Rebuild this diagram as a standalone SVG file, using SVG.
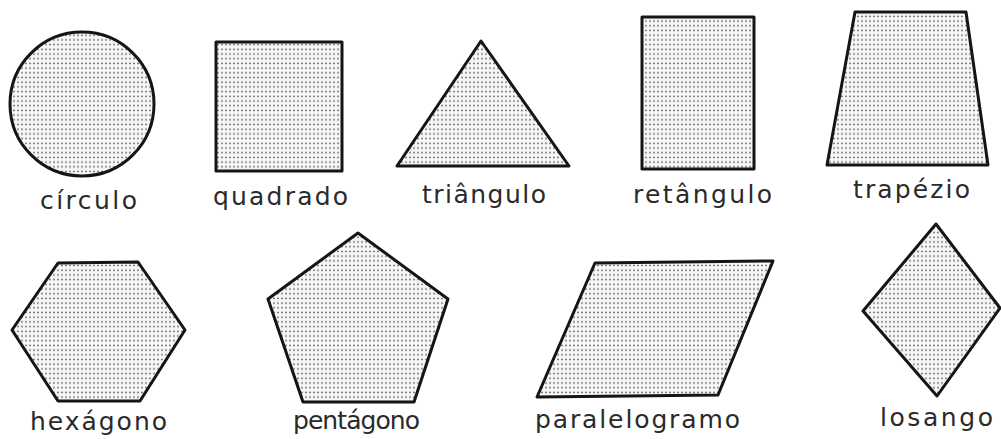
<svg xmlns="http://www.w3.org/2000/svg" width="1001" height="439" viewBox="0 0 1001 439">
<defs>
<pattern id="dots" width="4" height="4.7" patternUnits="userSpaceOnUse">
<rect width="4" height="4.7" fill="#f6f6f6"/>
<circle cx="2" cy="2.3" r="0.85" fill="#555"/>
</pattern>
</defs>
<style>
.s{fill:url(#dots);stroke:#151515;stroke-width:3;stroke-linejoin:round}
.t{font-family:"DejaVu Sans",sans-serif;font-size:25px;fill:#2a2a2a;text-anchor:start}
</style>
<rect width="1001" height="439" fill="#fff"/>
<g id="circulo"><circle class="s" cx="82" cy="104" r="72"/><text class="t" x="40" y="209" textLength="97" lengthAdjust="spacing">círculo</text></g>
<g id="quadrado"><rect class="s" x="216" y="42" width="126" height="129"/><text class="t" x="213" y="205" textLength="135" lengthAdjust="spacing">quadrado</text></g>
<g id="triangulo"><polygon class="s" points="481,41 397,166 569,166"/><text class="t" x="422" y="203" textLength="124" lengthAdjust="spacing">triângulo</text></g>
<g id="retangulo"><rect class="s" x="642" y="17" width="112" height="152"/><text class="t" x="633" y="203" textLength="139" lengthAdjust="spacing">retângulo</text></g>
<g id="trapezio"><polygon class="s" points="855,12 966,12 988,165 827,165"/><text class="t" x="853" y="198" textLength="117" lengthAdjust="spacing">trapézio</text></g>
<g id="hexagono"><polygon class="s" points="58,263 138,262 185,330 140,401 58,401 12,330"/><text class="t" x="30" y="430" textLength="137" lengthAdjust="spacing">hexágono</text></g>
<g id="pentagono"><polygon class="s" points="358,233 448,299 414,402 303,402 268,299"/><text class="t" x="293" y="429" textLength="127" lengthAdjust="spacing">pentágono</text></g>
<g id="paralelogramo"><polygon class="s" points="595,263 773,261 718,395 537,397"/><text class="t" x="535" y="428" textLength="205" lengthAdjust="spacing">paralelogramo</text></g>
<g id="losango"><polygon class="s" points="936,224 1000,308 937,396 863,311"/><text class="t" x="880" y="426" textLength="113" lengthAdjust="spacing">losango</text></g>
</svg>
